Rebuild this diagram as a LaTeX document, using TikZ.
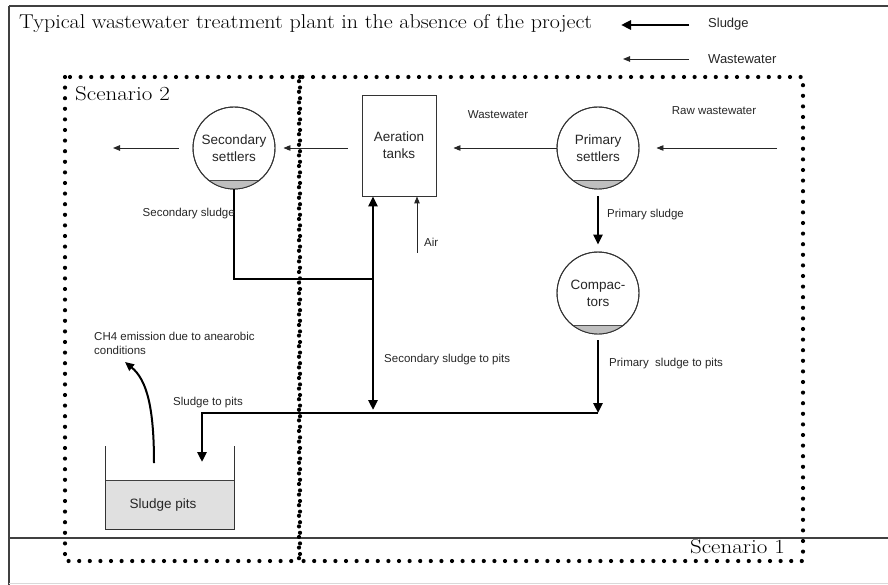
\documentclass[tikz,border=0pt]{standalone}
\usepackage{fontspec}
\newfontfamily\labfont{Liberation Sans}
\usetikzlibrary{arrows.meta,calc}
\begin{document}
\begin{tikzpicture}[x=1pt,y=-1pt,
  lbl/.style={font=\labfont\fontsize{11.5}{14}\selectfont, inner sep=0pt, text=black!85},
  big/.style={font=\labfont\fontsize{13.5}{17}\selectfont, align=center, text=black!85},
  settler/.style={circle, draw=black!80, line width=0.9pt, minimum size=82pt, inner sep=0pt, big},
  tank/.style={draw=black!80, line width=0.9pt, minimum width=74pt, minimum height=101pt, inner sep=0pt, big},
  warr/.style={line width=0.9pt, black!85, -{Triangle[length=7pt,width=5.5pt]}},
  sarr/.style={line width=2.8pt, -{Triangle[length=10pt,width=9pt]}},
  sline/.style={line width=2.8pt},
  mline/.style={line width=2pt},
  dotbox/.style={line width=4.2pt, dash pattern=on 0pt off 10.6pt, line cap=round},
  serif/.style={inner sep=0pt, text=black},
  frame/.style={line width=1.4pt, black!75}
]
\useasboundingbox (0,0) rectangle (888,585);
% outer frame
\draw[frame, line width=2pt] (9,6) -- (888,6);
\draw[frame] (9,6) -- (9,585);
\draw[frame] (9,538) -- (888,538);
\draw[black!15, line width=0.8pt] (9,583.5) -- (888,583.5);

% title and legend
\node[serif, anchor=base west] (title) at (19,28.5)
  {\scalebox{1.1}[1]{\fontsize{20}{22}\selectfont\addfontfeatures{FakeBold=0.6}Typical wastewater treatment plant in the absence of the project}};
\coordinate (legS1) at (689,25);
\coordinate (legS2) at (621,25);
\coordinate (legW1) at (689,59);
\coordinate (legW2) at (623,59);
\draw[sarr] (legS1) -- (legS2);
\draw[warr] (legW1) -- (legW2);
\node[lbl, font=\labfont\fontsize{13}{15}\selectfont, anchor=west] (legSt) at (708,24) {Sludge};
\node[lbl, font=\labfont\fontsize{13}{15}\selectfont, anchor=west] (legWt) at (708,59) {Wastewater};

% scenario boxes
\draw[dotbox] (65,77) rectangle (299,561);
\draw[dotbox] (300,77) rectangle (803,561);
\node[serif, anchor=base west] (sc2) at (75,101)
  {\scalebox{1.15}[1]{\fontsize{20}{22}\selectfont\addfontfeatures{FakeBold=0.3}Scenario 2}};
\node[serif, anchor=base east] (sc1) at (785,553)
  {\scalebox{1.15}[1]{\fontsize{20}{22}\selectfont\addfontfeatures{FakeBold=0.3}Scenario 1}};

% main units
\node[settler] (ss) at (234,148) {Secondary\\settlers};
\node[tank] (at) at (399,145.5) {Aeration\\tanks};
\node[settler] (ps) at (598,148) {Primary\\settlers};
\node[settler] (cp) at (598,293) {Compac-\\tors};

% sludge layers in settlers
\foreach \n in {ss,ps,cp}{
  \begin{scope}
    \clip (\n.center) circle (41pt);
    \fill[black!25] ($(\n.center)+(-50,32)$) rectangle ($(\n.center)+(50,50)$);
  \end{scope}
  \draw[black!70, line width=0.8pt] ($(\n.center)+(-25.6,32)$) -- ($(\n.center)+(25.6,32)$);
  \draw[black!80, line width=0.9pt] (\n.center) circle (41pt);
}

% sludge pits
\fill[black!12] (105,480) rectangle (234,529);
\draw[black!75, line width=0.9pt] (105,480) -- (234,480);
\draw[black!80, line width=1pt] (105,446) -- (105,529) -- (234,529) -- (234,446);
\node[big, inner sep=0pt] (pits) at (163,505) {Sludge pits};

% coordinates
\coordinate (outL) at (113,148);
\coordinate (rawin) at (777,148);
\coordinate (jR) at (598,413);
\coordinate (jM) at (373,413);
\coordinate (jL) at (202,413);
\coordinate (pitin) at (202,462);
\coordinate (sj) at (373,279);
\coordinate (airin) at (417,253);
\coordinate (ch4a) at (154,463);
\coordinate (ch4b) at (125,362);

% wastewater flow
\draw[warr] (rawin) -- ([xshift=17pt]ps.east);
\draw[warr] (ps.west) -- ([xshift=17pt]at.east |- ps.west);
\draw[warr] ([xshift=-14pt]at.west |- ss.east) -- ([xshift=8pt]ss.east);
\draw[warr] ([xshift=-14pt]ss.west) -- (outL);
\draw[warr] (airin) -- (airin |- at.south);

% sludge flow
\draw[sarr] ([yshift=-7pt]ps.south) -- ([yshift=7pt]cp.north);
\draw[sarr] ([yshift=-6pt]cp.south) -- (jR);
\draw[sline, {Triangle[length=10pt,width=9pt]}-{Triangle[length=10pt,width=9pt]}] (jM |- at.south) -- ([yshift=3pt]jM);
\draw[sarr] (jR) -- (jL) -- (pitin);
\draw[mline] (ss.south) |- (sj);
\draw[mline, -{Triangle[length=9pt,width=8pt]}] (ch4a) .. controls (154,408) and (147,380) .. (ch4b);

% labels
\node[lbl, anchor=east] (l1) at (235,214) {Secondary sludge};
\node[lbl, anchor=west] (l2) at (424,242) {Air};
\node[lbl, anchor=center] (l3) at (498,115) {Wastewater};
\node[lbl, anchor=center] (l4) at (714,111) {Raw wastewater};
\node[lbl, anchor=west] (l5) at (607,215) {Primary sludge};
\node[lbl, anchor=west] (l6) at (384,360) {Secondary sludge to pits};
\node[lbl, anchor=west] (l7) at (609,364) {Primary\ \ sludge to pits};
\node[lbl, anchor=west] (l8) at (173,403) {Sludge to pits};
\node[lbl, anchor=north west, align=left] (l9) at (94,332) {CH4 emission due to anearobic\\conditions};
\end{tikzpicture}
\end{document}
